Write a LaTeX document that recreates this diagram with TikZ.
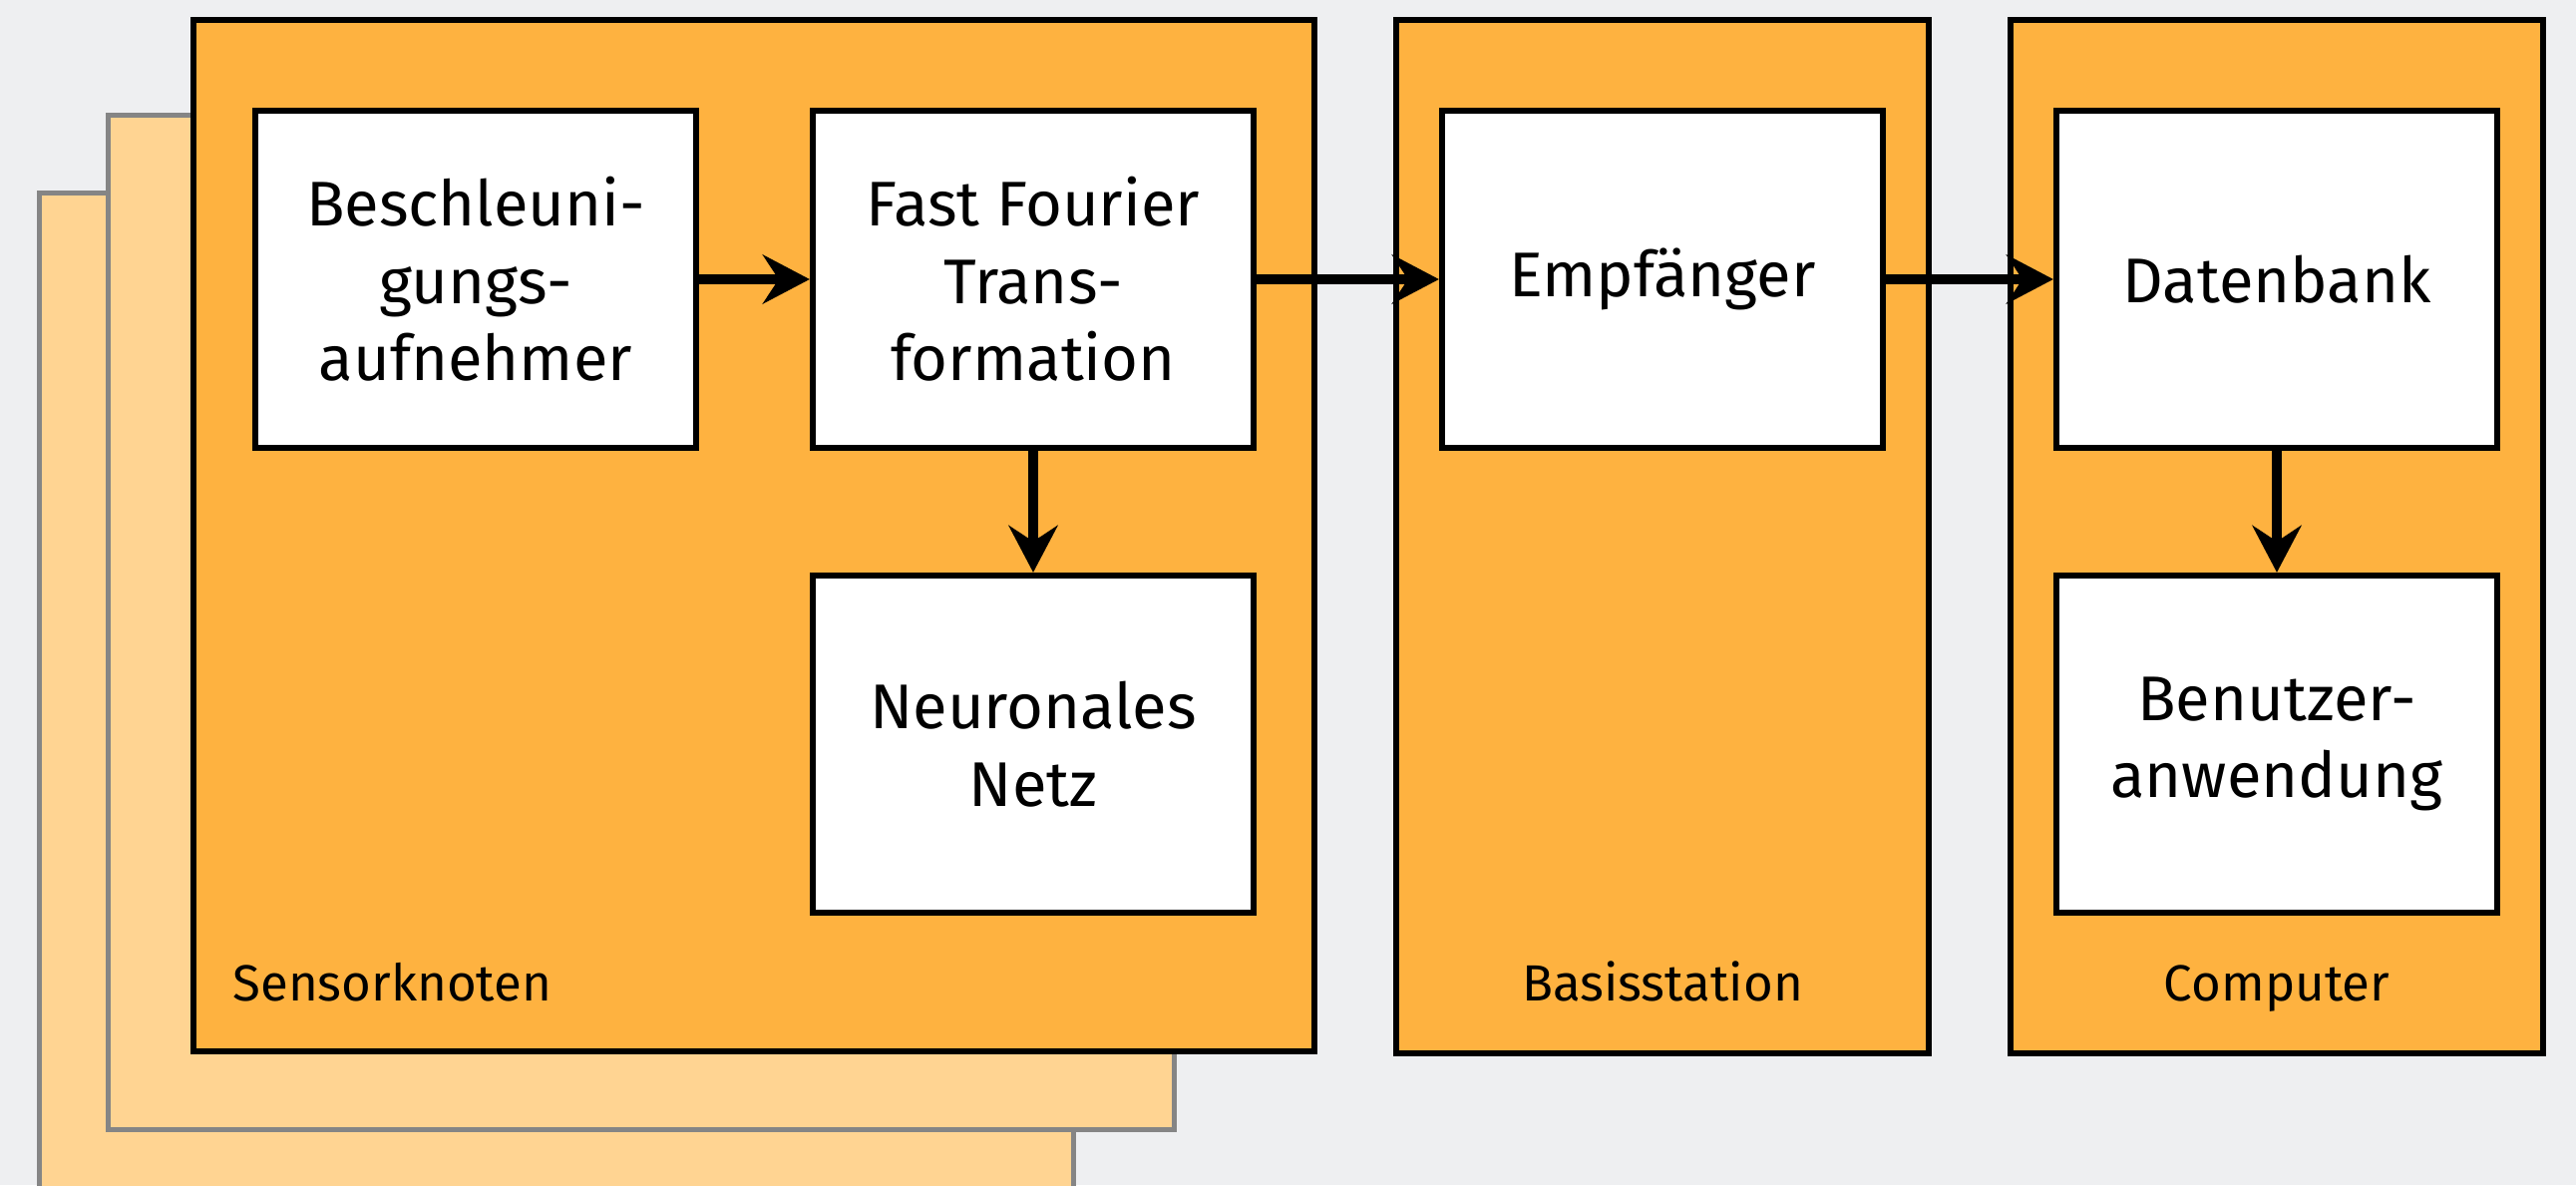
\documentclass[tikz,border=0pt]{standalone}
\usepackage{fontspec}
\setmainfont{Fira Sans}
\usetikzlibrary{arrows.meta}
\definecolor{bggrey}{HTML}{EEEFF1}
\definecolor{panelorange}{HTML}{FEB240}
\definecolor{backorange}{HTML}{FFD492}
\definecolor{edgegrey}{HTML}{858585}
\tikzset{
every picture/.style={
line width=1pt
}}

\begin{document}
\begin{tikzpicture}[x=0.01cm, y=-0.01cm,
panel/.style = {rectangle, draw=black, line width=1.7pt, fill=panelorange, inner sep=0pt},
back/.style = {rectangle, draw=edgegrey, line width=1.4pt, fill=backorange, inner sep=0pt},
block/.style = {rectangle, draw=black, line width=1.7pt, fill=white, align=center, minimum width=4.42cm, minimum height=3.38cm, inner sep=0pt, font=\fontsize{18}{22}\selectfont},
tag/.style = {anchor=base, font=\fontsize{14.5}{17}\selectfont},
flow/.style = {line width=2.8pt, -{Stealth[length=4.7mm, width=4.9mm, inset=1.6mm]}}]

\fill[bggrey] (0,0) rectangle (2583,1188);
\useasboundingbox (0,0) rectangle (2583,1188);
\clip (0,0) rectangle (2583,1188);

\node[back, minimum width=10.36cm, minimum height=10.17cm] (k3) at (558,702) {};
\node[back, minimum width=10.69cm, minimum height=10.17cm] (k2) at (643,624) {};
\node[panel, minimum width=11.24cm, minimum height=10.34cm] (sk) at (756,537) {};
\node[panel, minimum width=5.34cm, minimum height=10.35cm] (bs) at (1667,538) {};
\node[panel, minimum width=5.34cm, minimum height=10.35cm] (pc) at (2283,538) {};

\node[tag, anchor=base west] (l1) at (220,1003) {Sensorknoten};
\node[tag] (l2) at (1667,1003) {Basisstation};
\node[tag] (l3) at (2283,1003) {Computer};

\node[block] (acc) at (477,280) {Beschleuni-\\gungs-\\aufnehmer};
\node[block] (fft) at (1036,280) {Fast Fourier\\Trans-\\formation};
\node[block] (nn) at (1036,746) {Neuronales\\Netz};
\node[block] (rx) at (1667,280) {Empfänger};
\node[block] (db) at (2283,280) {Datenbank};
\node[block] (app) at (2283,746) {Benutzer-\\anwendung};

\draw[flow] (acc) -- (fft);
\draw[flow] (fft) -- (rx);
\draw[flow] (rx) -- (db);
\draw[flow] (fft) -- (nn);
\draw[flow] (db) -- (app);
\end{tikzpicture}
\end{document}
